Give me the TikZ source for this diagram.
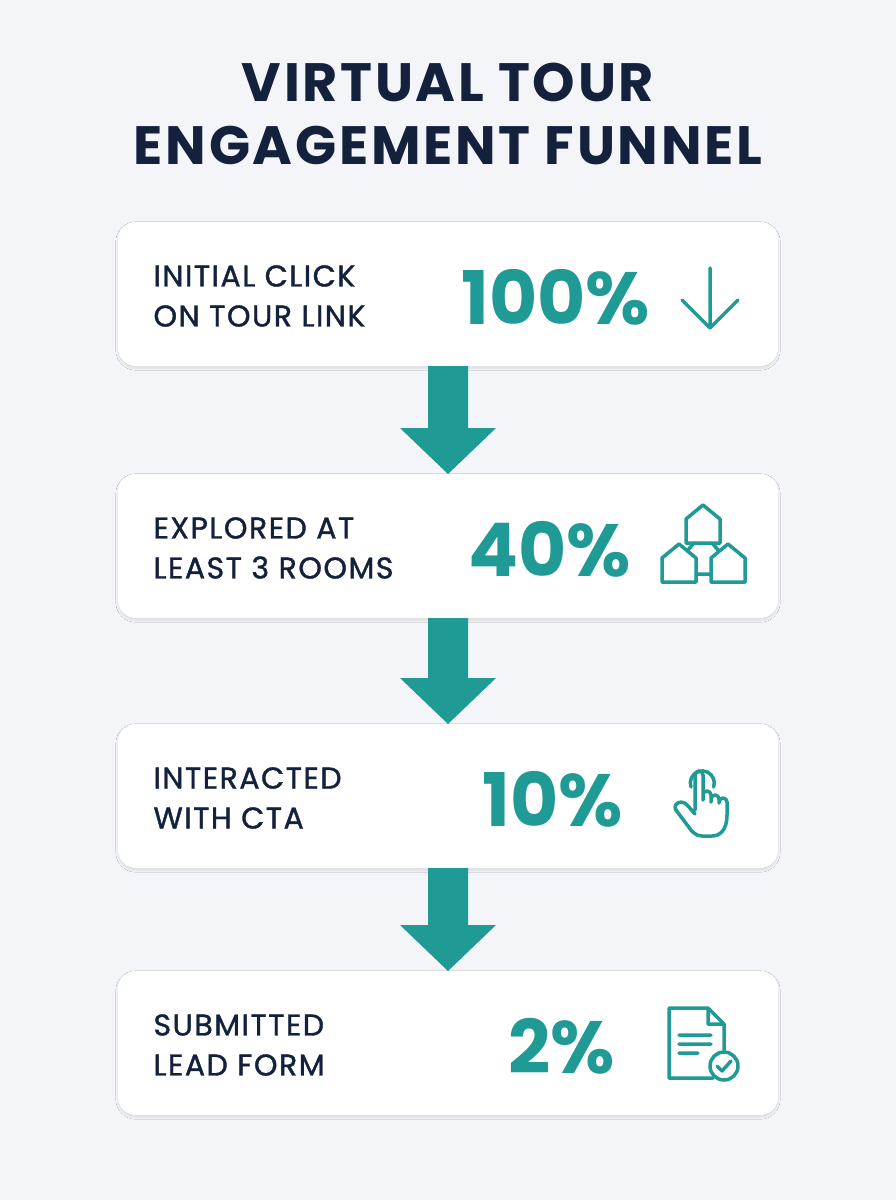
\documentclass[tikz,border=0pt]{standalone}
\usepackage{fontspec}
\setmainfont{Poppins}
\usetikzlibrary{shadows.blur,calc}
\definecolor{bg}{HTML}{F3F5F9}
\definecolor{navy}{HTML}{14213D}
\definecolor{teal}{HTML}{1F9A95}
\begin{document}
\begin{tikzpicture}[x=1pt,y=-1pt,
 card/.style={fill=white,rounded corners=18pt,blur shadow={shadow blur steps=8,shadow xshift=0pt,shadow yshift=-2pt,shadow opacity=12}},
 lbl/.style={anchor=west,align=left,text=navy,font=\fontsize{30}{40}\selectfont\addfontfeature{LetterSpace=5,FakeBold=1.2}},
 pct/.style={text=teal,font=\fontsize{74}{76}\selectfont\bfseries},
 ico/.style={draw=teal,line width=3.5pt,line join=round,line cap=round},
 flow/.style={fill=teal}]
\fill[bg] (0,0) rectangle (896,1200);
\useasboundingbox (0,0) rectangle (896,1200);
\node[text=navy,align=center,font=\fontsize{54}{63}\selectfont\bfseries\addfontfeature{LetterSpace=5}] (title) at (448,114) {VIRTUAL TOUR\\ENGAGEMENT FUNNEL};
\foreach \i/\y in {1/222,2/474,3/724,4/971}{
 \path[card] (118,\y) rectangle (778,\y+144);
 \coordinate (c\i t) at (448,\y);
 \coordinate (c\i b) at (448,\y+144);
}
\node[lbl] (l1) at (150,296) {INITIAL CLICK\\ON TOUR LINK};
\node[lbl] (l2) at (150,548) {EXPLORED AT\\LEAST 3 ROOMS};
\node[lbl] (l3) at (150,798) {INTERACTED\\WITH CTA};
\node[lbl] (l4) at (150,1045) {SUBMITTED\\LEAD FORM};
\node[pct] (p1) at (556,297) {100\%};
\node[pct] (p2) at (550,549) {40\%};
\node[pct] (p3) at (553,799) {10\%};
\node[pct] (p4) at (562,1046) {2\%};
% flow arrows
\foreach \a/\b in {1/2,2/3,3/4}{
 \path[flow] ($(c\a b)+(-20,0)$) -- ($(c\a b)+(20,0)$) -- ($(c\b t)+(20,-46)$) -- ($(c\b t)+(48,-46)$) -- (c\b t) -- ($(c\b t)+(-48,-46)$) -- ($(c\b t)+(-20,-46)$) -- cycle;
}
% icon 1: down arrow
\draw[ico] (710,268) -- (710,328) (682,300) -- (710,328) -- (738,300);
% icon 2: houses
\def\house#1#2{\draw[ico] (#1-17,#2+18) -- (#1-17,#2-6) -- (#1,#2-20) -- (#1+17,#2-6) -- (#1+17,#2+18) -- cycle;}
\house{703}{525}\house{679}{564}\house{728}{564}
\draw[ico] (694,543) -- (687,551) (712,543) -- (719,551) (696,574) -- (711,574);
% icon 3: hand
\draw[ico] (691,787) arc[start angle=160,end angle=380,radius=12];
\draw[ico] (695,810) -- (695,775) arc[start angle=180,end angle=360,radius=4] -- (703,800)
 (703,795) arc[start angle=180,end angle=360,radius=4] -- (711,802)
 (711,799) arc[start angle=180,end angle=360,radius=4] -- (719,803)
 (719,802) arc[start angle=180,end angle=360,radius=4] -- (727,815) .. controls (727,830) and (720,836) .. (712,836) -- (702,836) .. controls (696,836) and (692,832) .. (688,826) -- (676,810) .. controls (672,804) and (682,798) .. (688,806) -- (695,814);
% icon 4: document
\draw[ico] (713,1078) -- (669,1078) -- (669,1008) -- (708,1008) -- (724,1024) -- (724,1050)
 (708,1008) -- (708,1024) -- (724,1024)
 (679,1035) -- (711,1035) (679,1044) -- (711,1044) (679,1053) -- (698,1053);
\draw[ico,fill=white] (724,1066) circle (14);
\draw[ico] (717,1066) -- (722,1071) -- (731,1061);
\end{tikzpicture}
\end{document}
